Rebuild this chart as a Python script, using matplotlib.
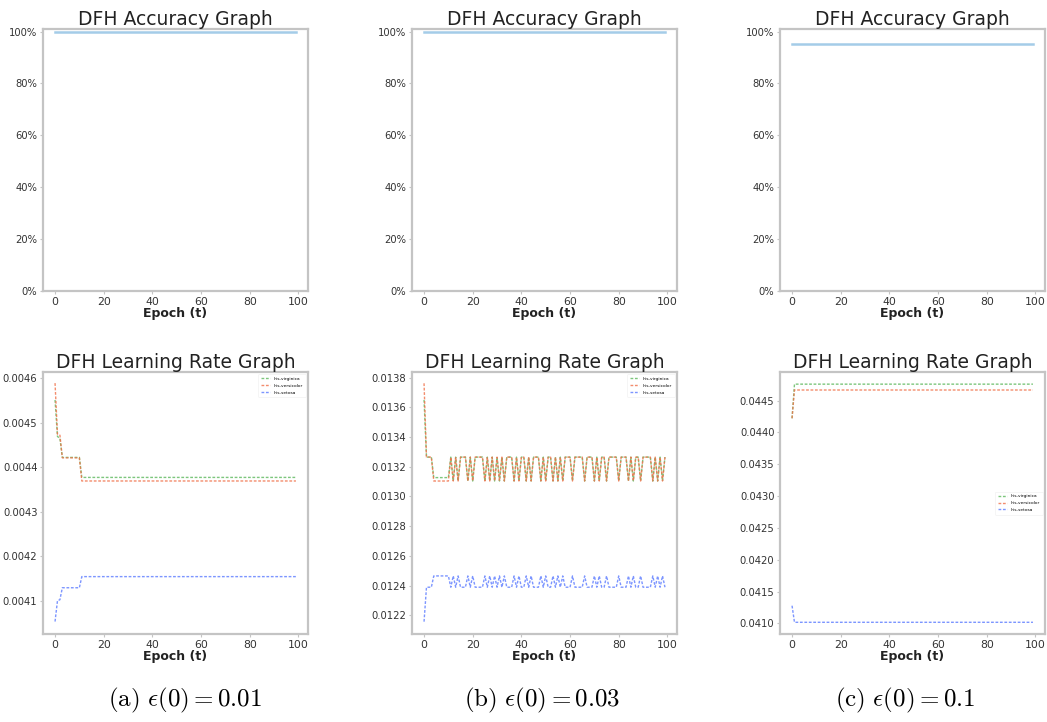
import matplotlib
matplotlib.use("Agg")
import matplotlib.pyplot as plt
from matplotlib.ticker import PercentFormatter

plt.rcParams['font.family'] = ['DejaVu Sans']
plt.rcParams['mathtext.fontset'] = 'cm'

epochs = list(range(100))

# ---- accuracy (top row) ----
acc_a = [1.0] * 100
acc_b = [1.0] * 100
acc_c = [0.953] * 100

# ---- learning rate (bottom row) ----
# (a) eps(0)=0.01
lr_a_virginica = [0.004551, 0.004469, 0.004465] + [0.004422] * 8 + [0.004377] * 89
lr_a_versicolor = [0.004589, 0.004474, 0.004472] + [0.004421] * 8 + [0.004369] * 89
lr_a_setosa = [0.004053, 0.004100, 0.004102] + [0.004129] * 8 + [0.004154] * 89

# (b) eps(0)=0.03
H, L = 0.013265, 0.013104
lr_b_versicolor = [0.013762, H, H, H, L, L, L, L, L, L, L,
                   H, L, H, L, H, H, H, L, H, L,
                   H, H, H, H, L, H, L, H, L, H,
                   L, H, L, H, H, H, L, H, L, H,
                   H, L, H, L, H, H, H, L, H, L,
                   H, H, L, H, L, H, L, H, H, H,
                   L, H, H, H, H, L, H, H, H, L,
                   H, L, H, H, L, H, H, H, H, L,
                   H, H, H, L, H, L, H, H, L, H,
                   H, H, H, L, H, L, H, L, H]
Hg, Lg = 0.013265, 0.013127
lr_b_virginica = [0.013650, Hg, Hg, Hg, Lg, Lg, Lg, Lg, Lg, Lg, Lg,
                  Hg, L, Hg, L, Hg, Hg, Hg, L, Hg, L,
                  Hg, Hg, Hg, Hg, L, Hg, L, Hg, L, Hg,
                  L, Hg, L, Hg, Hg, Hg, L, Hg, L, Hg,
                  Hg, L, Hg, L, Hg, Hg, Hg, L, Hg, L,
                  Hg, Hg, L, Hg, L, Hg, L, Hg, Hg, Hg,
                  L, Hg, Hg, Hg, Hg, L, Hg, Hg, Hg, L,
                  Hg, L, Hg, Hg, L, Hg, Hg, Hg, Hg, L,
                  Hg, Hg, Hg, L, Hg, L, Hg, Hg, L, Hg,
                  Hg, Hg, Hg, L, Hg, L, Hg, L, Hg]
bh, bl = 0.012465, 0.012389
lr_b_setosa = [0.012157, bl, bl, bl, bh, bh, bh, bh, bh, bh, bh,
               bl, bh, bl, bh, bl, bl, bl, bh, bl, bh,
               bl, bl, bl, bl, bh, bl, bh, bl, bh, bl,
               bh, bl, bh, bl, bl, bl, bh, bl, bh, bl,
               bl, bh, bl, bh, bl, bl, bl, bh, bl, bh,
               bl, bl, bh, bl, bh, bl, bh, bl, bl, bl,
               bh, bl, bl, bl, bl, bh, bl, bl, bl, bh,
               bl, bh, bl, bl, bh, bl, bl, bl, bl, bh,
               bl, bl, bl, bh, bl, bh, bl, bl, bh, bl,
               bl, bl, bl, bh, bl, bh, bl, bh, bl]

# (c) eps(0)=0.1
lr_c_virginica = [0.044223] + [0.044760] * 99
lr_c_versicolor = [0.044223] + [0.044668] * 99
lr_c_setosa = [0.041277] + [0.041016] * 99

series_names = ["Iris-virginica", "Iris-versicolor", "Iris-setosa"]
captions = [r"$\mathrm{(a)}\ \epsilon(0) = 0.01$",
            r"$\mathrm{(b)}\ \epsilon(0) = 0.03$",
            r"$\mathrm{(c)}\ \epsilon(0) = 0.1$"]

acc_data = [acc_a, acc_b, acc_c]
lr_data = [(lr_a_virginica, lr_a_versicolor, lr_a_setosa),
           (lr_b_virginica, lr_b_versicolor, lr_b_setosa),
           (lr_c_virginica, lr_c_versicolor, lr_c_setosa)]
lr_yticks = [[0.0041, 0.0042, 0.0043, 0.0044, 0.0045, 0.0046],
             [0.0122, 0.0124, 0.0126, 0.0128, 0.0130, 0.0132, 0.0134, 0.0136, 0.0138],
             [0.0410, 0.0415, 0.0420, 0.0425, 0.0430, 0.0435, 0.0440, 0.0445]]
lr_ylims = [(0.004025, 0.004614), (0.012074, 0.013838), (0.040832, 0.044951)]
legend_locs = ["upper right", "upper right", "center right"]

W, Hpx = 1047, 722
fig = plt.figure(figsize=(W / 100, Hpx / 100), dpi=100)

lefts = [43, 412, 780]
aw, ah = 265, 262
top_row_top = 29
bot_row_top = 372

spine_col = "#c4c4c4"
tick_col = "#333333"
line_cols = ["#5cb85c", "#f07048", "#5b7bff"]


def style(ax):
    for s in ax.spines.values():
        s.set_color(spine_col)
        s.set_linewidth(1.6)
    ax.tick_params(colors=spine_col, labelcolor=tick_col, labelsize=7.8,
                   length=2.5, width=0.8, pad=1.5)
    ax.tick_params(axis="y", labelsize=7.2)
    ax.set_xticks([0, 20, 40, 60, 80, 100])
    ax.set_xlabel("Epoch (t)", fontsize=9, fontweight="bold", labelpad=0, color="#222222")


for i in range(3):
    # accuracy
    ax = fig.add_axes([lefts[i] / W, (Hpx - top_row_top - ah) / Hpx, aw / W, ah / Hpx])
    ax.plot(epochs, acc_data[i], color="#a4cce8", lw=1.8)
    ax.set_ylim(0, 1.01)
    ax.set_yticks([0, 0.2, 0.4, 0.6, 0.8, 1.0])
    ax.yaxis.set_major_formatter(PercentFormatter(1.0, decimals=0))
    ax.set_title("DFH Accuracy Graph", fontsize=13.5, pad=2, color="#222222")
    style(ax)

    # learning rate
    ax = fig.add_axes([lefts[i] / W, (Hpx - bot_row_top - ah) / Hpx, aw / W, ah / Hpx])
    for ys, name, col in zip(lr_data[i], series_names, line_cols):
        ax.plot(epochs, ys, color=col, lw=1.0, ls=(0, (2, 1.2)), alpha=0.8, label=name)
    ax.set_ylim(*lr_ylims[i])
    ax.set_yticks(lr_yticks[i])
    ax.set_yticklabels(["{:.4f}".format(v) for v in lr_yticks[i]])
    ax.set_title("DFH Learning Rate Graph", fontsize=13.5, pad=2, color="#222222")
    style(ax)
    leg = ax.legend(loc=legend_locs[i], fontsize=3.2, frameon=True, handlelength=2.2,
                    borderpad=0.6, labelspacing=0.6, fancybox=True)
    leg.get_frame().set_edgecolor("#eeeeee")
    leg.get_frame().set_linewidth(0.5)

    fig.text([185, 542, 905][i] / W, 22 / Hpx, captions[i], fontsize=18,
             ha="center", va="center", color="black")

fig.savefig("out.png", dpi=100)
